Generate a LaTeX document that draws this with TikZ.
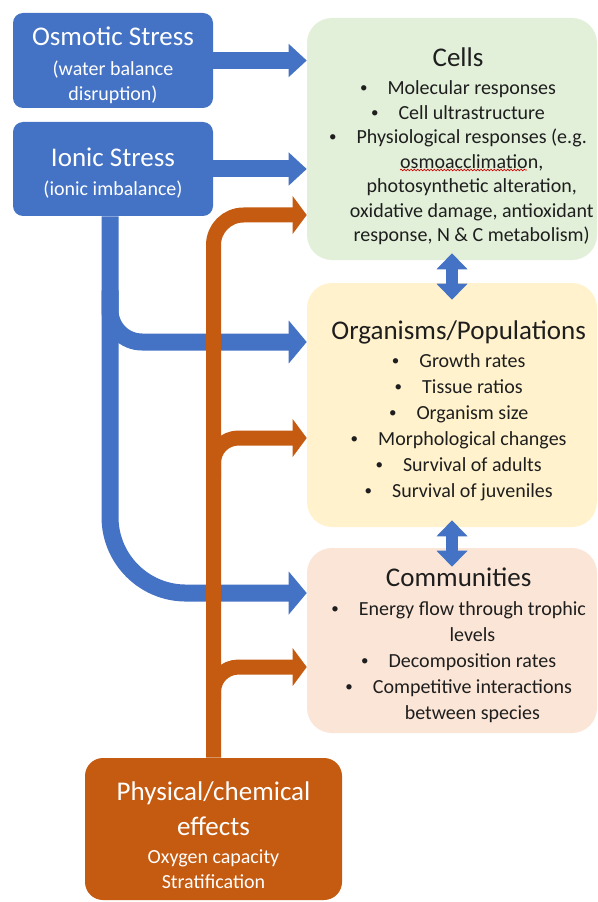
\documentclass[tikz,border=0pt]{standalone}
\usepackage{fontspec}
\setmainfont{Carlito}
\usetikzlibrary{arrows.meta, positioning, decorations.pathmorphing}

\definecolor{offblue}{HTML}{4472C4}
\definecolor{offorange}{HTML}{C55A11}
\definecolor{cellgreen}{HTML}{E2F0D9}
\definecolor{orgyellow}{HTML}{FFF2CC}
\definecolor{compeach}{HTML}{FBE5D6}
\definecolor{inktext}{HTML}{1E1E1E}

\newcommand{\titlefont}{\fontsize{20.25pt}{24pt}\selectfont}
\newcommand{\bodyfont}[1]{\fontsize{15pt}{#1}\selectfont\lineskiplimit=-50pt}
\newcommand{\itm}{\raisebox{0.1em}{\scalebox{0.75}{\textbullet}}\hspace{1em}}
\newcommand{\cnt}{\phantom{\itm}}

\tikzset{
  stressbox/.style={fill=offblue, rounded corners=7.5pt, minimum width=150pt,
                    text=white, align=center, inner sep=0pt},
  physbox/.style={fill=offorange, rounded corners=13.5pt, minimum width=192.75pt,
                  minimum height=106.5pt, text=white, align=center, inner sep=0pt},
  levelbox/.style={rounded corners=18.75pt, minimum width=217.5pt, inner sep=0pt},
  leveltext/.style={align=center, text=inktext, inner sep=0pt, anchor=north},
  bluearrow/.style={draw=offblue, line width=12.75pt, -{Triangle[length=13.5pt, width=#1]}},
  bluearrow/.default=24pt,
  orangearrow/.style={draw=offorange, line width=11.25pt, -{Triangle[length=10.5pt, width=27.75pt]}},
  twoway/.style={draw=offblue, line width=9pt,
                 {Triangle[length=12pt, width=22.5pt]}-{Triangle[length=12pt, width=22.5pt]}}
}

\begin{document}
\begin{tikzpicture}[x=0.75pt, y=-0.75pt]
  \useasboundingbox (0,0) rectangle (598,902);

  % stressors on the left
  \node[stressbox, minimum height=71.25pt, font=\bodyfont{18.75pt}] (osmotic) at (113,60.5)
       {\rule{0pt}{21pt}{\titlefont Osmotic Stress}\\[3.75pt](water balance\\disruption)};
  \node[stressbox, minimum height=70.5pt, font=\bodyfont{18.75pt}] (ionic) at (113,169)
       {\rule{0pt}{20pt}{\titlefont Ionic Stress}\\[3pt](ionic imbalance)};
  \node[physbox, font=\bodyfont{18.75pt}] (phys) at (213.5,829)
       {\rule{0pt}{23pt}{\titlefont Physical/chemical}\\[7.5pt]{\titlefont effects}\\[2.25pt]Oxygen capacity\\Stratification};

  % levels of organisation on the right
  \node[levelbox, fill=cellgreen, minimum height=181.5pt] (cells) at (452,139) {};
  \node[levelbox, fill=orgyellow, minimum height=183pt] (org) at (452,405) {};
  \node[levelbox, fill=compeach, minimum height=138.75pt] (comm) at (452,640.5) {};

  \node[leveltext, font=\bodyfont{18.4pt}] (cellstxt) at ([xshift=4.5pt,yshift=-22.5pt]cells.north)
       {{\titlefont Cells}\\[2.5pt]
        \itm Molecular responses\\
        \itm Cell ultrastructure\\
        \itm Physiological responses (e.g.\\
        \cnt osmoacclimation,\\
        \cnt photosynthetic alteration,\\
        \cnt oxidative damage, antioxidant\\
        \cnt response, N \& C metabolism)};
  \node[leveltext, font=\bodyfont{19.5pt}] (orgtxt) at ([xshift=5pt,yshift=-28.5pt]org.north)
       {{\titlefont Organisms/Populations}\\[1.5pt]
        \itm Growth rates\\
        \itm Tissue ratios\\
        \itm Organism size\\
        \itm Morphological changes\\
        \itm Survival of adults\\
        \itm Survival of juveniles};
  \node[leveltext, font=\bodyfont{19.5pt}] (commtxt) at ([xshift=5pt,yshift=-15pt]comm.north)
       {{\titlefont Communities}\\[2.25pt]
        \itm Energy flow through trophic\\
        \cnt levels\\
        \itm Decomposition rates\\
        \itm Competitive interactions\\
        \cnt between species};

  % spell-check squiggle
  \draw[red!80!black, line width=0.5pt, decorate,
        decoration={snake, amplitude=0.6pt, segment length=2.5pt}] (400,170) -- (527,170);

  % blue arrows
  \coordinate (btrunk) at ([xshift=-2.25pt]ionic.south);
  \draw[bluearrow] (osmotic.east) -- (cells.west |- osmotic.east);
  \draw[bluearrow] (ionic.east) -- (cells.west |- ionic.east);
  \draw[bluearrow=31.5pt, rounded corners=24pt] ([yshift=-55.5pt]btrunk) |- ([yshift=47.25pt]org.west);
  \draw[bluearrow=31.5pt, rounded corners=57pt] (btrunk) |- ([yshift=35.6pt]comm.west);

  % orange arrows
  \draw[orangearrow, rounded corners=22.5pt] (phys.north) |- ([yshift=-57pt]cells.west);
  \draw[orangearrow, rounded corners=18.75pt] ([yshift=208.5pt]phys.north) |- ([yshift=-24.75pt]org.west);
  \draw[orangearrow, rounded corners=18.75pt] ([yshift=43.5pt]phys.north) |- ([yshift=-19.9pt]comm.west);

  % links between levels
  \draw[twoway] ([yshift=5.25pt]cells.south) -- ([yshift=-12.75pt]org.north);
  \draw[twoway] ([yshift=5.25pt]org.south) -- ([yshift=-14.25pt]comm.north);
\end{tikzpicture}
\end{document}
